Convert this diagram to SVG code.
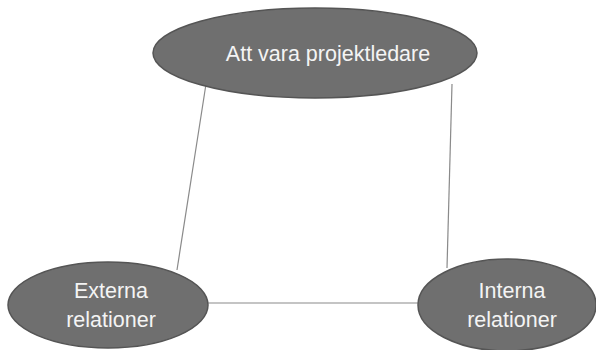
<svg xmlns="http://www.w3.org/2000/svg" width="596" height="350" viewBox="0 0 596 350">
  <style>
    .node ellipse { fill: #6f6f6f; stroke: #555555; stroke-width: 1.5; }
    .node text { fill: #f4f4f4; font-family: "Liberation Sans", Arial, sans-serif; font-size: 21.5px; text-anchor: middle; }
    .edges line { stroke: #8a8a8a; stroke-width: 1.2; }
  </style>
  <rect width="596" height="350" fill="#ffffff"/>
  <g class="edges">
    <line x1="206" y1="84" x2="177" y2="270"/>
    <line x1="452" y1="84" x2="447" y2="268"/>
    <line x1="206" y1="303" x2="419" y2="303"/>
  </g>
  <g id="projektledare" class="node">
    <ellipse cx="315" cy="53" rx="162" ry="45"/>
    <text x="328" y="61">Att vara projektledare</text>
  </g>
  <g id="externa" class="node">
    <ellipse cx="108" cy="305" rx="100" ry="43"/>
    <text x="111" y="298">Externa</text>
    <text x="111" y="327">relationer</text>
  </g>
  <g id="interna" class="node">
    <ellipse cx="507" cy="305" rx="89" ry="46"/>
    <text x="512" y="298">Interna</text>
    <text x="512" y="327">relationer</text>
  </g>
</svg>
